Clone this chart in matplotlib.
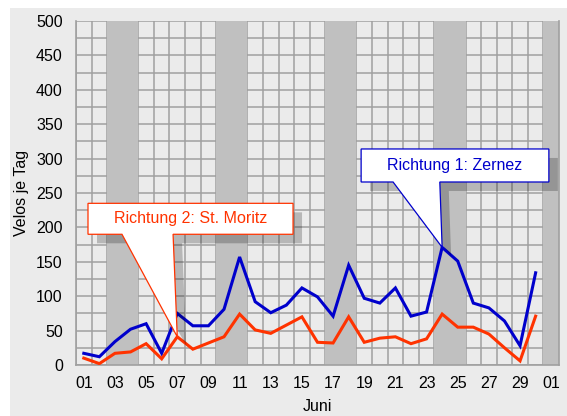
import numpy as np
import matplotlib
matplotlib.use("Agg")
import matplotlib.pyplot as plt
from matplotlib.patches import Polygon, Rectangle
from matplotlib.ticker import MultipleLocator
import matplotlib.transforms as mtransforms

plt.rcParams['font.family'] = ['Liberation Sans', 'DejaVu Sans']

# Daten: Juni 1..30, Velos je Tag
days = np.arange(1, 31)
zernez = [17, 12, 34, 52, 60, 17, 75, 57, 57, 81, 157, 92, 76, 87, 112,
          99, 71, 145, 97, 90, 112, 71, 77, 171, 151, 90, 83, 64, 28, 134]
moritz = [10, 2, 17, 19, 31, 9, 41, 23, 32, 41, 74, 51, 46, 58, 70,
          33, 32, 70, 33, 39, 41, 31, 38, 74, 55, 55, 45, 25, 6, 71]
weekends = [(3, 4), (10, 11), (17, 18), (24, 25), (31, 31)]
xtick_days = list(range(1, 32, 2))
xtick_labels = ["%02d" % (d if d <= 30 else d - 30) for d in xtick_days]

blue = '#0000cc'
red = '#ff3300'
fs = 11.5

fig = plt.figure(figsize=(5.67, 4.16), dpi=100)
fig.patch.set_facecolor('white')
fig.patches.append(Rectangle((10 / 567, 0), 1, 1 - 8 / 416, transform=fig.transFigure,
                             facecolor='#ebebeb', edgecolor='none', zorder=-10))

ax = fig.add_axes([76 / 567, 1 - 365 / 416, (559 - 76) / 567, (365 - 21) / 416])
ax.set_facecolor('#ebebeb')
ax.set_xlim(0.5, 31.5)
ax.set_ylim(0, 500)

# Raster: vertikal an den Tagesgrenzen, horizontal alle 25
ax.set_xticks(xtick_days)
ax.set_xticklabels(xtick_labels)
ax.xaxis.set_minor_locator(MultipleLocator(1, offset=0.5))
ax.yaxis.set_major_locator(MultipleLocator(50))
ax.yaxis.set_minor_locator(MultipleLocator(25))
ax.grid(which='both', axis='y', color='#a0a0a0', lw=1.1)
ax.grid(which='minor', axis='x', color='#a0a0a0', lw=1.1)
ax.set_axisbelow(True)
ax.tick_params(which='both', length=0, labelsize=fs)
ax.tick_params(axis='y', pad=9.5)
ax.tick_params(axis='x', pad=8)
ax.spines['top'].set_visible(False)
for s in ['left', 'bottom', 'right']:
    ax.spines[s].set_color('#a0a0a0')
    ax.spines[s].set_linewidth(1.2)
ax.spines['right'].set_zorder(2)

# Wochenenden
for a, b in weekends:
    ax.axvspan(a - 0.5, b + 0.5, color='#c0c0c0', lw=0, zorder=1.5)

ax.plot(days, zernez, color=blue, lw=2.2, zorder=3, solid_joinstyle='miter')
ax.plot(days, moritz, color=red, lw=2.2, zorder=3, solid_joinstyle='miter')

ax.set_ylabel("Velos je Tag", fontsize=fs, labelpad=5)
ax.set_xlabel("Juni", fontsize=fs, labelpad=6)


def callout(x0, x1, y0, y1, w0, w1, tip, text, color):
    pts = [(x0, y1), (x1, y1), (x1, y0), (w1, y0), tip, (w0, y0), (x0, y0)]
    shadow_tr = ax.transData + mtransforms.ScaledTranslation(9 / 100, -9 / 100, fig.dpi_scale_trans)
    ax.add_patch(Polygon(pts, closed=True, facecolor='black', alpha=0.22, edgecolor='none',
                         transform=shadow_tr, zorder=4, clip_on=False))
    ax.add_patch(Polygon(pts, closed=True, facecolor='white', edgecolor=color, lw=0.9,
                         zorder=5, clip_on=False))
    ax.text((x0 + x1) / 2, (y0 + y1) / 2, text, color=color, fontsize=fs,
            ha='center', va='center', zorder=6)


callout(18.8, 30.85, 266, 314, 20.85, 23.85, (24, zernez[23]), "Richtung 1: Zernez", blue)
callout(1.27, 14.43, 190, 235, 3.45, 6.73, (7, moritz[6]), "Richtung 2: St. Moritz", red)

fig.savefig("out.png", dpi=100, facecolor=fig.get_facecolor())
